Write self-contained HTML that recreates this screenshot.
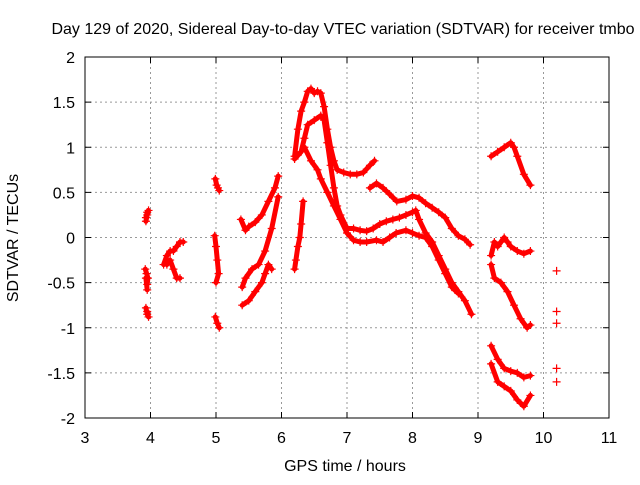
<!DOCTYPE html>
<html><head><meta charset="utf-8"><style>
body{margin:0;background:#fff}
svg{font-family:"Liberation Sans",sans-serif;font-size:16px}
</style></head><body>
<svg id="chart" width="640" height="480">
<text x="343" y="34" text-anchor="middle">Day 129 of 2020, Sidereal Day-to-day VTEC variation (SDTVAR) for receiver tmbo</text>
<text x="345" y="471" text-anchor="middle">GPS time / hours</text>
<text transform="translate(18,238) rotate(-90)" text-anchor="middle">SDTVAR / TECUs</text>
<g id="grid"></g><g id="marks"></g>
<rect x="85" y="57" width="524" height="361" fill="none" stroke="#000"/>
</svg>
<script>
const xTicks=[3,4,5,6,7,8,9,10,11];
const yTicks=[-2,-1.5,-1,-0.5,0,0.5,1,1.5,2];
const trackX=[
[3.93,3.95,3.97,3.95,3.93],
[3.92,3.94,3.96,3.95,3.93,3.95],
[3.93,3.95,3.97,3.95],
[4.2,4.25,4.3,4.35,4.4,4.45,4.5],
[4.25,4.3,4.35,4.4,4.45],
[4.99,5.01,5.03,5.05],
[4.98,5.0,5.02,5.04,5.0],
[4.99,5.02,5.05],
[5.38,5.45,5.5,5.6,5.7,5.8,5.9,5.95],
[5.4,5.45,5.55,5.65,5.75,5.85,5.95],
[5.4,5.5,5.6,5.7,5.75,5.8,5.85],
[6.2,6.22,6.25,6.28,6.3,6.33],
[6.2,6.25,6.3,6.35,6.4,6.45,6.5,6.55,6.6,6.65,6.7,6.75,6.8,6.85,6.95,7.05,7.15,7.25,7.35,7.42],
[7.35,7.45,7.55,7.65,7.76,7.9,8.0,8.1,8.2,8.3,8.4,8.5,8.6,8.7,8.8,8.88],
[6.2,6.3,6.35,6.4,6.5,6.6,6.65,6.7,6.75,6.8,6.85,6.9,7.0,7.1,7.2,7.3,7.4,7.5,7.6,7.7,7.8,7.9,8.0,8.05,8.1,8.2,8.3,8.4,8.5,8.6,8.7,8.8,8.9],
[6.35,6.45,6.55,6.6,6.7,6.8,6.9,7.0,7.1,7.2,7.3,7.45,7.55,7.65,7.75,7.9,8.0,8.1,8.2,8.3,8.4,8.5,8.6,8.7],
[9.2,9.3,9.4,9.5,9.55,9.6,9.7,9.8],
[9.2,9.25,9.3,9.4,9.45,9.5,9.6,9.7,9.8],
[9.2,9.25,9.35,9.45,9.55,9.65,9.75,9.8],
[9.2,9.3,9.4,9.5,9.6,9.7,9.8],
[9.2,9.3,9.4,9.5,9.6,9.7,9.8],
[10.2],[10.2],[10.2],[10.2],[10.2]
];
const trackY=[
[0.18,0.25,0.3,0.28,0.22],
[-0.35,-0.4,-0.45,-0.52,-0.45,-0.58],
[-0.78,-0.85,-0.88,-0.82],
[-0.3,-0.2,-0.15,-0.15,-0.1,-0.05,-0.05],
[-0.3,-0.25,-0.35,-0.45,-0.45],
[0.65,0.58,0.55,0.52],
[0.02,-0.1,-0.25,-0.4,-0.5],
[-0.88,-0.95,-1.0],
[0.2,0.08,0.12,0.17,0.25,0.4,0.55,0.68],
[-0.55,-0.45,-0.35,-0.3,-0.15,0.1,0.45],
[-0.75,-0.7,-0.6,-0.5,-0.4,-0.3,-0.35],
[-0.35,-0.25,-0.1,0.0,0.15,0.4],
[0.9,1.2,1.4,1.5,1.62,1.65,1.6,1.62,1.6,1.45,1.2,1.0,0.85,0.75,0.72,0.7,0.7,0.72,0.8,0.85],
[0.55,0.6,0.55,0.48,0.4,0.42,0.46,0.44,0.38,0.33,0.28,0.22,0.1,0.02,-0.02,-0.08],
[0.87,0.95,1.1,1.25,1.3,1.35,1.3,1.05,0.8,0.55,0.35,0.25,0.1,0.1,0.08,0.07,0.1,0.15,0.18,0.2,0.22,0.25,0.28,0.3,0.2,0.05,-0.05,-0.2,-0.35,-0.5,-0.6,-0.7,-0.85],
[1.0,0.85,0.75,0.65,0.5,0.35,0.2,0.05,-0.03,-0.05,-0.05,-0.03,-0.05,0.0,0.05,0.08,0.05,0.02,0.0,-0.1,-0.25,-0.4,-0.55,-0.62],
[0.9,0.95,1.0,1.05,1.0,0.9,0.7,0.58],
[-0.2,-0.05,-0.1,0.0,-0.05,-0.1,-0.15,-0.18,-0.15],
[-0.3,-0.45,-0.5,-0.6,-0.75,-0.9,-1.0,-0.97],
[-1.2,-1.35,-1.45,-1.48,-1.5,-1.55,-1.53],
[-1.4,-1.6,-1.65,-1.7,-1.8,-1.87,-1.75],
[-0.37],[-0.82],[-0.95],[-1.45],[-1.6]
];
const NS='http://www.w3.org/2000/svg';
const X0=85,X1=609,Y0=418,Y1=57;
function sx(v){return X0+(v-3)/8*(X1-X0);}
function sy(v){return Y0-(v+2)/4*(Y0-Y1);}
function mk(t,a,p){const e=document.createElementNS(NS,t);for(const k in a)e.setAttribute(k,a[k]);p.appendChild(e);return e;}
const grid=document.getElementById('grid'),marks=document.getElementById('marks');
xTicks.forEach(v=>{const x=sx(v);
 if(v>3&&v<11){const g=mk('line',{x1:x,x2:x,y1:Y1,y2:Y0,stroke:'#999','stroke-dasharray':'2,3'},grid);
 
 }
 mk('line',{x1:x,x2:x,y1:Y0,y2:Y0-6,stroke:'#000'},grid);
 mk('line',{x1:x,x2:x,y1:Y1,y2:Y1+6,stroke:'#000'},grid);
 const t=mk('text',{x:x,y:Y0+25,'text-anchor':'middle'},grid);t.textContent=v;
 
 });
yTicks.forEach(v=>{const y=sy(v);
 if(v>-2&&v<2){const g=mk('line',{x1:X0,x2:X1,y1:y,y2:y,stroke:'#999','stroke-dasharray':'2,3'},grid);
 
 }
 mk('line',{x1:X0,x2:X0+6,y1:y,y2:y,stroke:'#000'},grid);
 mk('line',{x1:X1,x2:X1-6,y1:y,y2:y,stroke:'#000'},grid);
 const t=mk('text',{x:X0-10,y:y+6,'text-anchor':'end'},grid);t.textContent=v;
 
 });
trackX.forEach((xs,i)=>{const ys=trackY[i];
 if(xs.length>1){const d=xs.map((v,j)=>(j?'L':'M')+sx(v).toFixed(1)+','+sy(ys[j]).toFixed(1)).join('');
  const p=mk('path',{d:d,fill:'none',stroke:'#f00','stroke-width':5,'stroke-linejoin':'round','stroke-linecap':'round'},marks);
  
  }
 xs.forEach((v,j)=>{const x=sx(v),y=sy(ys[j]);
  const m=mk('path',{d:`M${x-4},${y}H${x+4}M${x},${y-4}V${y+4}`,stroke:'#f00','stroke-width':1.2},marks);
  
  });
});
</script>
</body></html>
